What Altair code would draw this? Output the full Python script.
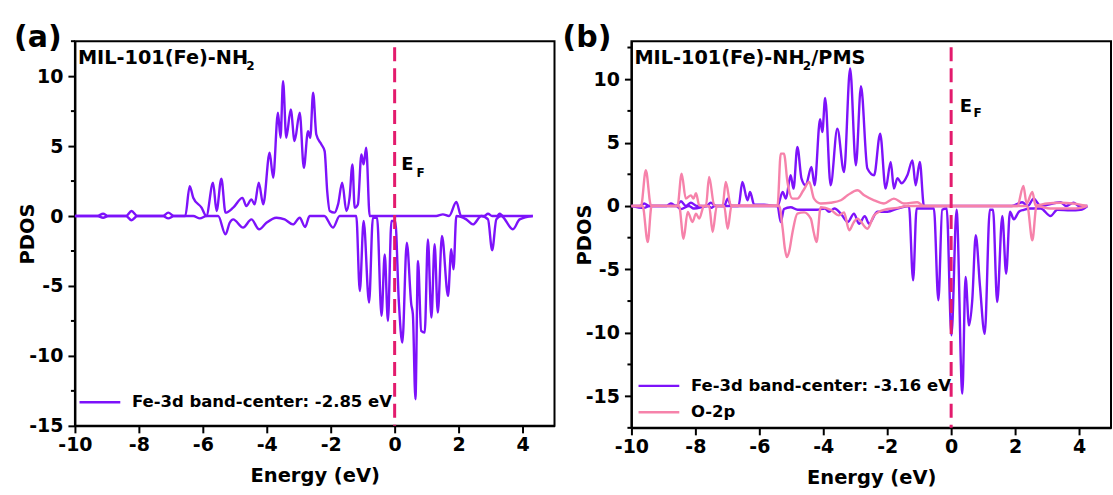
import altair as alt
import pandas as pd

FONT = "DejaVu Sans"
PURPLE = "#7d12fa"
PINK = "#f682aa"
EF_COLOR = "#e31b6d"

# ---------------- Panel (a): MIL-101(Fe)-NH2, Fe-3d ----------------
a_up_E = [-10.0, -9.3, -9.12, -8.95, -8.4, -8.23, -8.05, -7.25, -7.08, -6.9,
          -6.55, -6.41, -6.30, -6.04, -5.89, -5.68, -5.57, -5.42, -5.29, -5.05,
          -4.76, -4.64, -4.48, -4.38, -4.25, -4.11, -3.91, -3.80, -3.65, -3.57,
          -3.49, -3.39, -3.25, -3.13, -2.97, -2.84, -2.71, -2.64, -2.55, -2.45,
          -2.29, -2.19, -2.11, -2.03, -1.88, -1.77, -1.64, -1.51, -1.41, -1.32,
          -1.25, -1.15, -1.04, -0.97, -0.89, -0.78, 1.30, 1.51, 1.70, 1.93,
          2.08, 2.80, 2.92, 3.05, 3.20, 3.28, 3.40, 4.32]
a_up_V = [0, 0, 0.16, 0, 0, 0.36, 0, 0, 0.24, 0,
          0, 2.14, 1.31, 0.6, 0, 2.38, 0.36, 2.67, 0.24, 0.6,
          1.3, 0.71, 1.19, 0.83, 2.38, 0.83, 4.52, 2.74, 7.38, 5.6,
          9.64, 5.6, 7.62, 5.36, 7.38, 3.45, 6.07, 5.6, 8.81, 5.83,
          5.12, 4.64, 1.79, 0.36, 0.24, 0.83, 2.38, 0.36, 1.31, 3.69,
          0.6, 0.83, 4.4, 3.69, 4.88, 0, 0, 0.12, 0, 1.0,
          0, 0, 0.16, 0, 0, 0.16, 0, 0]

a_dn_E = [-10.0, -9.3, -9.12, -8.95, -8.4, -8.23, -8.05, -7.25, -7.08, -6.9,
          -6.3, -6.09, -5.89, -5.52, -5.29, -5.16, -5.05, -4.74, -4.48, -4.24,
          -4.01, -3.70, -3.44, -3.18, -2.97, -2.80, -2.66, -2.2, -1.93, -1.72,
          -1.20, -1.09, -0.97, -0.80, -0.68, -0.55, -0.41, -0.31, -0.21, -0.10,
          0.02, 0.13, 0.24, 0.38, 0.52, 0.57, 0.65, 0.73, 0.83, 0.94,
          1.04, 1.15, 1.25, 1.35, 1.48, 1.67, 1.77, 1.84, 1.93, 2.24,
          2.45, 2.71, 2.92, 3.05, 3.18, 3.33, 3.70, 3.91, 4.32]
a_dn_V = [0, 0, -0.12, 0, 0, -0.3, 0, 0, -0.17, 0,
          0, -0.17, 0, 0, -1.31, -0.48, -0.24, -0.83, -0.24, -0.95,
          -0.48, -0.12, -0.24, -0.6, -0.12, -0.78, 0, 0, -0.83, 0,
          0, -5.36, -0.36, -6.19, -0.12, -0.12, -7.14, -2.74, -7.5, -0.36,
          -0.36, -6.07, -9.05, -1.9, -6.31, -7.02, -13.1, -3.21, -8.21, -8.33,
          -1.67, -7.26, -2.02, -6.9, -1.43, -5.71, -2.38, -3.81, 0, -0.24,
          -0.6, 0, -0.24, -2.45, -0.24, 0, -0.95, -0.24, 0]

# ---------------- Panel (b): MIL-101(Fe)-NH2/PMS ----------------
b_fe_up_E = [-10.0, -9.75, -9.6, -9.45, -8.9, -8.77, -8.6, -8.45, -8.3, -8.14,
             -7.95, -7.65, -7.52, -7.35, -7.1, -6.99, -6.88, -6.65, -6.53, -6.37,
             -6.29, -6.16, -5.85, -5.43, -5.27, -5.17, -5.02, -4.93, -4.81, -4.68,
             -4.55, -4.37, -4.27, -4.10, -4.03, -3.94, -3.77, -3.56, -3.35, -3.16,
             -2.98, -2.82, -2.62, -2.41, -2.22, -2.05, -1.89, -1.79, -1.68, -1.55,
             -1.37, -1.21, -1.11, -0.98, -0.85, 1.9, 2.22, 2.4, 2.58, 2.8,
             3.42, 3.6, 3.83, 4.0, 4.26]
b_fe_up_V = [0, 0, 0.2, 0, 0, 0.2, 0, 0.37, 0, 0.26,
             0, 0, 0.26, 0, 0, 0.58, 0, 0, 1.89, 0.45,
             1.1, 0.1, 0.1, 0, 1.1, 0.58, 2.42, 1.37, 4.66, 2.16,
             1.63, 3.08, 1.63, 6.84, 5.84, 8.52, 1.63, 6.1, 2.68, 10.84,
             3.21, 9.45, 2.95, 2.42, 5.71, 1.37, 3.47, 1.37, 2.2, 1.79,
             2.42, 3.6, 1.63, 3.47, 0, 0, 0.3, 0, 0.58, 0,
             0.3, 0, 0.26, 0, 0]

b_fe_dn_E = [-10.0, -9.6, -9.45, -8.6, -8.45, -8.2, -8.05, -7.6, -7.5, -7.4,
             -5.5, -5.43, -5.33, -5.23, -5.02, -4.8, -4.5, -4.2, -3.95, -3.82,
             -3.65, -3.45, -3.23, -3.04, -2.88, -2.7, -2.57, -2.31, -1.99, -1.68,
             -1.32, -1.19, -1.08, -0.54, -0.40, -0.28, -0.14, 0.01, 0.17, 0.35,
             0.45, 0.56, 0.66, 0.77, 0.90, 1.05, 1.21, 1.31, 1.44, 1.60,
             1.72, 1.84, 1.96, 2.12, 2.27, 2.48, 2.8, 3.11, 3.32, 3.73,
             4.05, 4.26]
b_fe_dn_V = [0, -0.15, 0, 0, -0.25, 0, -0.2, 0, -0.15, 0,
             0, 0, -1.26, -0.24, -0.1, -0.3, -0.3, -0.3, -0.2, -0.45,
             -0.2, -0.6, -1.26, -0.6, -1.4, -0.8, -1.4, -0.45, -0.45, -0.2,
             0, -5.87, -0.2, -0.2, -7.44, -0.3, -0.2, -10.2, -0.3, -14.8,
             -5.6, -9.42, -7.44, -2.31, -6.26, -10.08, -0.3, -0.3, -7.58, -0.79,
             -5.34, -0.45, -1.05, -0.45, -0.3, -0.2, -0.2, -0.79, -0.3, -0.34,
             -0.3, 0]

b_o_up_E = [-10.0, -9.7, -9.55, -9.39, -8.56, -8.43, -8.3, -8.14, -8.06, -7.98,
            -7.88, -7.67, -7.57, -7.41, -7.15, -7.05, -6.89, -5.43, -5.33, -5.23,
            -5.12, -4.96, -4.81, -4.62, -4.44, -4.29, -4.08, -3.77, -3.45, -3.24,
            -2.93, -2.72, -2.41, -2.10, -1.79, -1.48, -1.06, -0.85, 2.07, 2.26,
            2.36, 2.54, 2.64, 3.0, 3.4, 3.8, 4.26]
b_o_up_V = [0, 0, 2.82, 0.05, 0, 2.55, 0.58, 0.84, 0.58, 1.0,
            0.05, 0, 2.29, 0.05, 0, 1.89, 0.05, 0.05, 4.13, 4.13,
            1.89, 0.58, 0.58, 1.24, 1.89, 0.58, 0.2, 0.26, 0.45, 0.84,
            1.24, 0.84, 0.45, 0.2, 0.58, 0.2, 0.3, 0, 0, 1.58,
            0.2, 1.1, 0.05, 0.2, 0.25, 0.2, 0]

b_o_dn_E = [-10.0, -9.65, -9.49, -9.37, -8.51, -8.37, -8.24, -8.09, -7.98, -7.88,
            -7.73, -7.57, -7.46, -7.33, -7.1, -6.99, -6.87, -5.38, -5.27, -5.20,
            -5.14, -5.07, -4.96, -4.81, -4.60, -4.39, -4.30, -4.21, -4.08, -3.77,
            -3.51, -3.35, -3.19, -3.04, -2.93, -2.62, -2.41, -2.10, -1.68, -1.37,
            2.38, 2.54, 2.67, 3.1, 3.5, 3.9, 4.26]
b_o_dn_V = [0, 0, -2.84, 0, 0, -2.58, -0.47, -1.26, -0.6, -1.0,
            0, 0, -2.05, 0, 0, -1.79, 0, 0, -1.79, -3.37,
            -4.03, -3.63, -2.05, -0.6, -0.5, -1.0, -2.05, -2.84, -0.1, -0.3,
            -0.74, -0.5, -1.92, -1.26, -1.0, -1.79, -0.74, -0.3, -0.15, 0,
            0, -2.71, 0, -0.2, -0.2, -0.2, 0]

A_FE = "Fe-3d band-center: -2.85 eV"
B_FE = "Fe-3d band-center: -3.16 eV"
B_O = "O-2p"

X_TICKS = list(range(-10, 6))
A_Y_MAJOR = [-15, -10, -5, 0, 5, 10]
A_Y_MINOR = [-12.5, -7.5, -2.5, 2.5, 7.5, 12.5]
B_Y_MAJOR = [-15, -10, -5, 0, 5, 10]
B_Y_MINOR = [-17.5, -12.5, -7.5, -2.5, 2.5, 7.5, 12.5]

X_MAJOR = "abs(datum.value / 2 - round(datum.value / 2)) < 0.01"


def frame(E, V, series, spin):
    assert len(E) == len(V)
    return pd.DataFrame({"E": E, "PDOS": V, "series": series, "key": series + "|" + spin,
                         "idx": list(range(len(E)))})


a_df = pd.concat([frame(a_up_E, a_up_V, A_FE, "up"),
                  frame(a_dn_E, a_dn_V, A_FE, "down")], ignore_index=True)
b_df = pd.concat([frame(b_fe_up_E, b_fe_up_V, B_FE, "up"),
                  frame(b_fe_dn_E, b_fe_dn_V, B_FE, "down"),
                  frame(b_o_up_E, b_o_up_V, B_O, "up"),
                  frame(b_o_dn_E, b_o_dn_V, B_O, "down")], ignore_index=True)

ONE = pd.DataFrame({"k": [0]})


def text(t, x, y, size, data_coords=False):
    enc = dict(x=alt.datum(x), y=alt.datum(y)) if data_coords else dict(x=alt.value(x), y=alt.value(y))
    return alt.Chart(ONE).mark_text(text=t, font=FONT, fontWeight="bold", fontSize=size,
                                    align="left", baseline="alphabetic", color="black").encode(**enc)


def panel(df, domain, rng, ydom, ymajor, yminor, height, legend_xy, title_tail, ef_xy, tag, tag_x):
    xscale = alt.Scale(domain=[-10, 5], nice=False, zero=False)
    yscale = alt.Scale(domain=ydom, nice=False, zero=False)
    xaxis = alt.Axis(values=X_TICKS, title="Energy (eV)",
                     labelExpr=f"({X_MAJOR}) ? '' + round(datum.value) : ''",
                     tickSize={"condition": {"test": X_MAJOR, "value": 7}, "value": 4},
                     labelPadding=3, titleY=56, titleBaseline="alphabetic",
                     labelOverlap=False, labelFlush=False)
    yaxis = alt.Axis(values=ymajor, title="PDOS", labelExpr="'' + datum.value",
                     tickSize=7, labelPadding=5, titleX=-41, titleBaseline="alphabetic",
                     titleAngle=270, labelOverlap=False, labelFlush=False)
    legend = alt.Legend(orient="none", legendX=legend_xy[0], legendY=legend_xy[1], title=None,
                        symbolType="M-2.4,0H2.4", symbolSize=289, symbolStrokeWidth=2.5,
                        labelFont=FONT, labelFontWeight="bold", labelFontSize=16.5,
                        labelColor="black", labelOffset=22, rowPadding=7.5, padding=0,
                        labelLimit=400)
    lines = alt.Chart(df).mark_line(strokeWidth=2.4, interpolate="monotone").encode(
        x=alt.X("E:Q", scale=xscale, axis=xaxis),
        y=alt.Y("PDOS:Q", scale=yscale, axis=yaxis),
        color=alt.Color("series:N", scale=alt.Scale(domain=domain, range=rng), legend=legend),
        detail="key:N",
        order="idx:Q",
    )
    minor = alt.Chart(pd.DataFrame({"PDOS": yminor})).mark_rule(color="black", strokeWidth=2).encode(
        y=alt.Y("PDOS:Q", scale=yscale, axis=yaxis),
        x=alt.value(-4), x2=alt.value(0),
    )
    layers = [lines, minor,
              alt.Chart(ONE).mark_rule(color=EF_COLOR, strokeWidth=3, strokeDash=[14, 7],
                                       strokeDashOffset=-6).encode(x=alt.datum(0)),
              text("MIL-101(Fe)-NH", 3, 23, 19.3),
              text("2", 171.5, 29, 12)]
    if title_tail:
        layers.append(text(title_tail, 180, 23, 19.3))
    layers += [text("E", ef_xy[0], ef_xy[1], 18, data_coords=True),
               text("F", ef_xy[2], ef_xy[3], 12, data_coords=True),
               text(tag, tag_x, 6, 30)]
    return alt.layer(*layers).properties(width=480, height=height)


pa = panel(a_df, [A_FE], [PURPLE], [-15, 12.5], A_Y_MAJOR, A_Y_MINOR, 385, (15, 351.5),
           None, (0.21, 3.26, 0.68, 2.81), "(a)", -61)
pb = panel(b_df, [B_FE, B_O], [PURPLE, PINK], [-17.5, 13], B_Y_MAJOR, B_Y_MINOR, 387, (17.5, 335),
           "/PMS", (0.27, 7.42, 0.7, 7.02), "(b)", -69)

chart = alt.hconcat(pa, pb, spacing=77, bounds="flush").resolve_scale(
    color="independent", x="independent", y="independent"
).properties(
    padding={"left": 13, "top": 22, "right": 1, "bottom": 2}
).configure_view(stroke="black", strokeWidth=2).configure_axis(
    labelFont=FONT, labelFontWeight="bold", labelFontSize=19, labelColor="black",
    titleFont=FONT, titleFontWeight="bold", titleFontSize=19.5, titleColor="black",
    tickColor="black", tickWidth=2, domainColor="black", domainWidth=2, grid=False,
)

chart.save("out.html", embed_options={"renderer": "svg", "actions": False})
